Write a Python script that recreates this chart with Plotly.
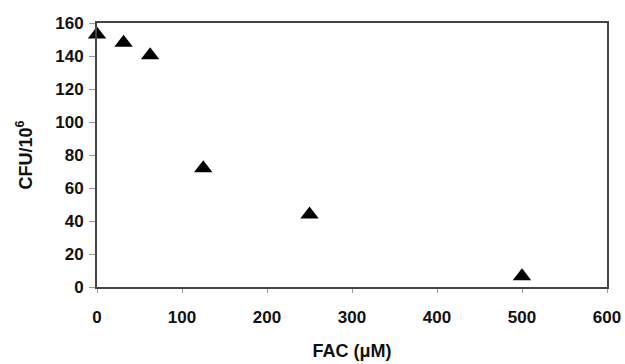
import plotly.graph_objects as go

fac_um = [0, 31.25, 62.5, 125, 250, 500]
cfu = [153, 148, 140.5, 72, 44, 6.5]

x_ticks = [0, 100, 200, 300, 400, 500, 600]
y_ticks = [0, 20, 40, 60, 80, 100, 120, 140, 160]

fig = go.Figure()
fig.add_trace(go.Scatter(
    x=fac_um, y=cfu, mode="markers",
    marker=dict(symbol="triangle-up", size=16, color="black", line=dict(width=0)),
    showlegend=False, cliponaxis=False,
))

bold = dict(family="Liberation Sans, Arial, sans-serif", size=17, color="#111", weight="bold")
title_font = dict(bold, size=18)
fig.update_layout(
    width=625, height=364,
    margin=dict(l=97, r=18, t=23, b=77, autoexpand=False),
    paper_bgcolor="white", plot_bgcolor="white",
    font=bold,
    xaxis=dict(
        range=[0, 600], tickvals=x_ticks, showgrid=False, zeroline=False,
        showline=True, linecolor="#444", linewidth=2, mirror=True,
        ticks="outside", ticklen=4, tickcolor="#999", tickwidth=1,
        tickfont=bold, automargin=False, ticklabelstandoff=10,
        title=dict(text="FAC (μM)", standoff=18, font=title_font),
    ),
    yaxis=dict(
        range=[0, 160], tickvals=y_ticks, showgrid=False, zeroline=False,
        showline=True, linecolor="#444", linewidth=2, mirror=True,
        ticks="outside", ticklen=6, tickcolor="#999", tickwidth=1,
        tickfont=bold, automargin=False, ticklabelstandoff=2,
        title=dict(text="CFU/10<sup>6</sup>", standoff=18, font=title_font),
    ),
)

fig.write_html("out.html", config={"displayModeBar": False},
               post_script="document.body.style.margin='0';")
